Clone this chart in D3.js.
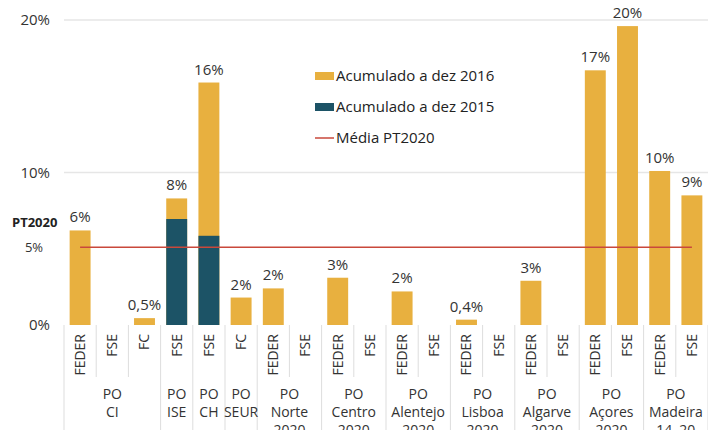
<!DOCTYPE html>
<html>
<head>
<meta charset="utf-8">
<script src="https://cdn.jsdelivr.net/npm/d3@7"></script>
<style>
  body { margin: 0; background: #fff; }
  svg { display: block; font-family: "Open Sans", sans-serif; }
</style>
</head>
<body>
<svg id="chart" width="708" height="430"></svg>
<script>
// ---- data ----
const funds = ["FEDER","FSE","FC","FSE","FSE","FC","FEDER","FSE","FEDER","FSE","FEDER","FSE","FEDER","FSE","FEDER","FSE","FEDER","FSE","FEDER","FSE"];
const groupOf = [0,0,0,1,2,3,4,4,5,5,6,6,7,7,8,8,9,9,10,10];
const groupNames = [["PO","CI"],["PO","ISE"],["PO","CH"],["PO","SEUR"],["PO","Norte","2020"],["PO","Centro","2020"],["PO","Alentejo","2020"],["PO","Lisboa","2020"],["PO","Algarve","2020"],["PO","Açores","2020"],["PO","Madeira","14–20"]];
const values2016 = [6.2,0,0.45,8.3,15.9,1.8,2.4,0,3.1,0,2.2,0,0.35,0,2.9,0,16.7,19.6,10.1,8.5];
const values2015 = [0,0,0,6.95,5.85,0,0,0,0,0,0,0,0,0,0,0,0,0,0,0];
const valueLabels = ["6%","","0,5%","8%","16%","2%","2%","","3%","","2%","","0,4%","","3%","","17%","20%","10%","9%"];
const mediaPT2020 = 5.1;
const yTicks = [0,10,20];
const legendItems = ["Acumulado a dez 2016","Acumulado a dez 2015","Média PT2020"];

// ---- layout ----
const svg = d3.select("#chart");
const pL = 64, pR = 708, pT = 20, base = 325;
const gold = "#E8B03F", teal = "#1C5366", red = "#C9483B", grid = "#E6E6E6", txt = "#333";

const idx = d3.range(funds.length);
const x = d3.scaleBand().domain(idx).range([pL, pR]).paddingInner(0.35).paddingOuter(0.175);
const y = d3.scaleLinear().domain([0, 20]).range([base, pT]);
const step = x.step();

// gridlines
svg.append("g").selectAll("line").data(yTicks.filter(d => d > 0)).join("line")
  .attr("x1", pL).attr("x2", pR)
  .attr("y1", d => y(d)).attr("y2", d => y(d))
  .attr("stroke", grid).attr("stroke-width", 1.5);

// y axis labels
const yAxis = d3.axisLeft(y).tickValues(yTicks).tickFormat(d => d + "%").tickSize(0).tickPadding(14);
const ya = svg.append("g").attr("transform", `translate(${pL},0)`).call(yAxis);
ya.select(".domain").remove();
ya.selectAll("text").attr("font-size", 15).attr("fill", txt).attr("font-family", "Open Sans, sans-serif");

// PT2020 / 5% labels
svg.append("text").attr("x", 12).attr("y", y(mediaPT2020) - 20).attr("font-size", 13).attr("font-weight", "bold").attr("fill", "#222").text("PT2020");
svg.append("text").attr("x", 34).attr("y", y(mediaPT2020)).attr("dy", "0.35em").attr("text-anchor", "middle").attr("font-size", 13).attr("fill", txt).text("5%");

// bars 2016
svg.append("g").selectAll("rect").data(idx.filter(i => values2016[i] > 0)).join("rect")
  .attr("x", i => x(i)).attr("width", x.bandwidth())
  .attr("y", i => y(values2016[i])).attr("height", i => base - y(values2016[i]))
  .attr("fill", gold);
// bars 2015
svg.append("g").selectAll("rect").data(idx.filter(i => values2015[i] > 0)).join("rect")
  .attr("x", i => x(i)).attr("width", x.bandwidth())
  .attr("y", i => y(values2015[i])).attr("height", i => base - y(values2015[i]))
  .attr("fill", teal);

// value labels
svg.append("g").selectAll("text").data(idx.filter(i => valueLabels[i])).join("text")
  .attr("x", i => x(i) + x.bandwidth() / 2).attr("y", i => y(values2016[i]) - 8)
  .attr("text-anchor", "middle").attr("font-size", 15).attr("fill", txt)
  .text(i => valueLabels[i]);

// mean line
svg.append("line")
  .attr("x1", x(0) + x.bandwidth() / 2).attr("x2", x(funds.length - 1) + x.bandwidth() / 2)
  .attr("y1", y(mediaPT2020)).attr("y2", y(mediaPT2020))
  .attr("stroke", red).attr("stroke-width", 1.5);

// category dividers
const divs = d3.range(funds.length + 1);
svg.append("g").selectAll("line").data(divs).join("line")
  .attr("x1", i => pL + i * step).attr("x2", i => pL + i * step)
  .attr("y1", base)
  .attr("y2", i => (i === 0 || i === funds.length || groupOf[i] !== groupOf[i - 1]) ? 430 : 377)
  .attr("stroke", "#DDDDDD").attr("stroke-width", 1);

// fund labels (rotated)
svg.append("g").selectAll("text").data(idx).join("text")
  .attr("transform", i => `translate(${x(i) + x.bandwidth() / 2},${base + 9}) rotate(-90)`)
  .attr("text-anchor", "end").attr("dy", "0.35em")
  .attr("font-size", 14).attr("fill", txt).text(i => funds[i]);

// group labels
const groups = groupNames.map((g, gi) => {
  const members = idx.filter(i => groupOf[i] === gi);
  return { lines: g, cx: pL + (members[0] + members.length / 2) * step };
});
const gl = svg.append("g").selectAll("text").data(groups).join("text")
  .attr("x", d => d.cx).attr("y", 399)
  .attr("text-anchor", "middle").attr("font-size", 14).attr("fill", txt);
gl.selectAll("tspan").data(d => d.lines.map(l => ({ l, cx: d.cx }))).join("tspan")
  .attr("x", d => d.cx).attr("dy", (d, i) => i === 0 ? 0 : 18).text(d => d.l);

// legend
const lg = svg.append("g").attr("transform", "translate(315,0)");
const ly = [76, 107, 138];
legendItems.forEach((t, i) => {
  if (i < 2) {
    lg.append("rect").attr("x", 0).attr("y", ly[i] - 4).attr("width", 19).attr("height", 8).attr("fill", i === 0 ? gold : teal);
  } else {
    lg.append("line").attr("x1", 0).attr("x2", 19).attr("y1", ly[i]).attr("y2", ly[i]).attr("stroke", red).attr("stroke-width", 1.5);
  }
  lg.append("text").attr("x", 21).attr("y", ly[i]).attr("dy", "0.35em").attr("font-size", 15).attr("fill", "#222").text(t);
});
</script>
</body>
</html>
